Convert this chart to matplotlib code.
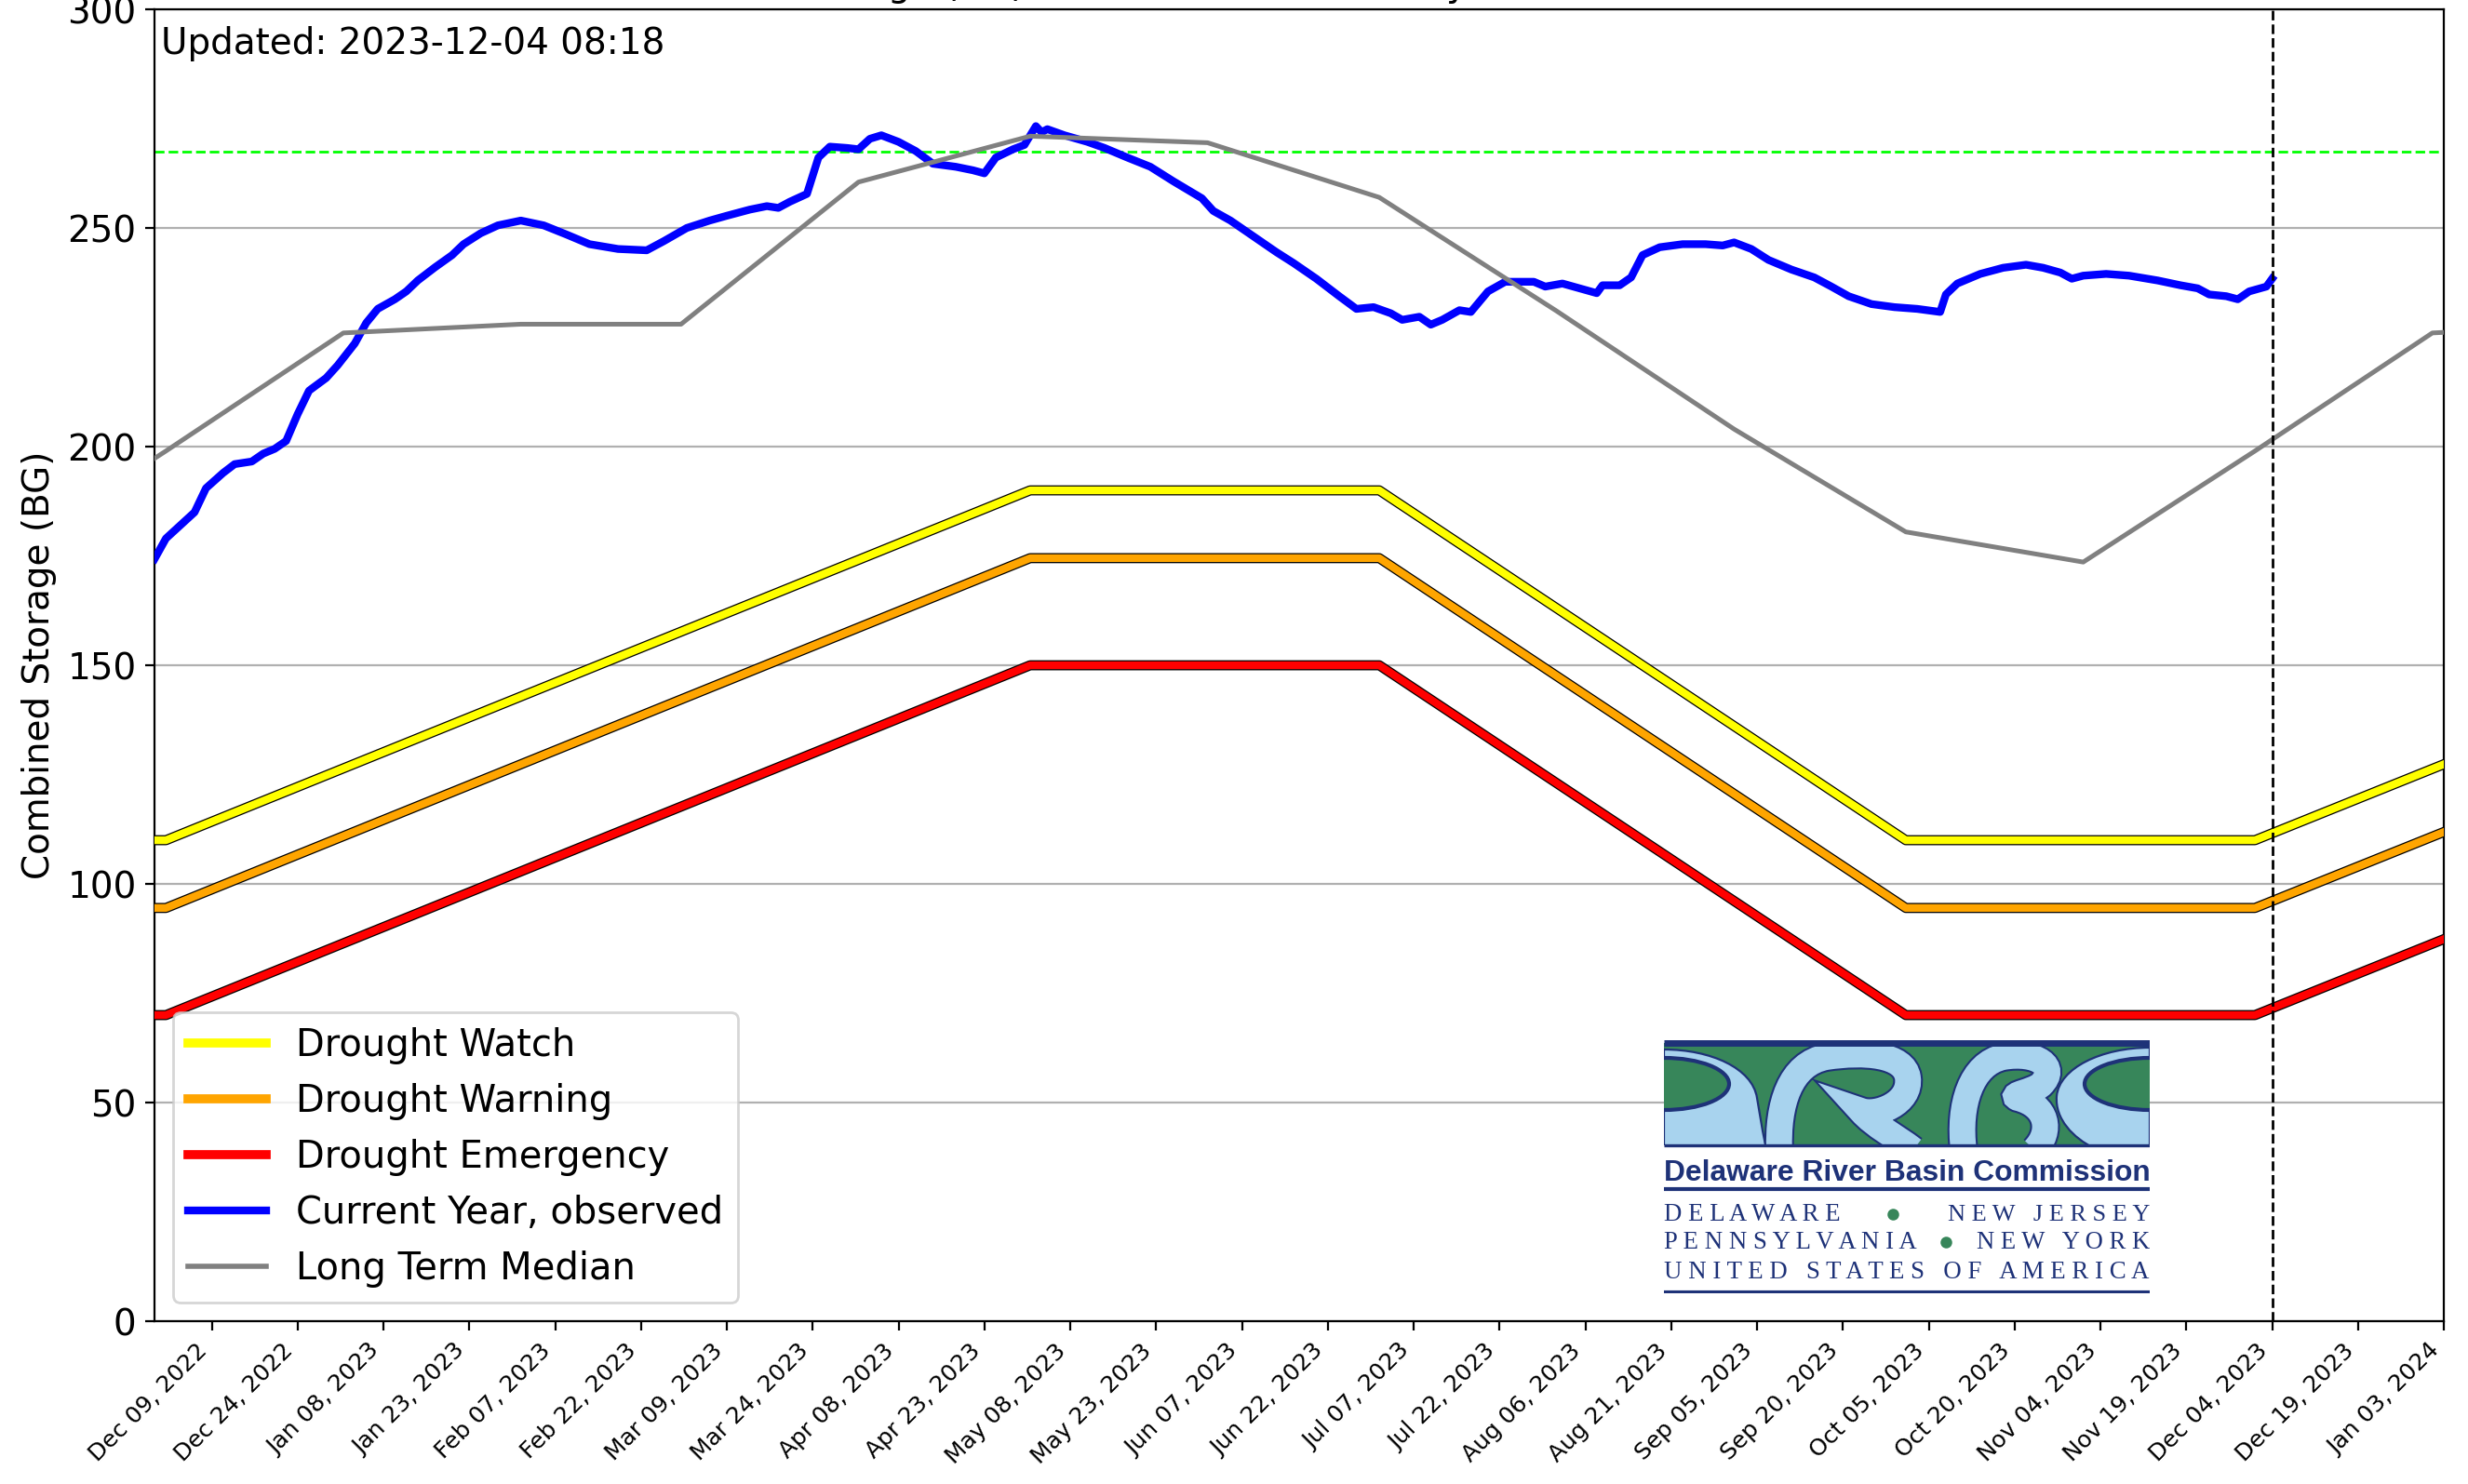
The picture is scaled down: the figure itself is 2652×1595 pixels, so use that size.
import numpy as np
import pandas as pd
import matplotlib
matplotlib.use('Agg')
from matplotlib import pyplot as plt
from matplotlib import dates as mdates
from matplotlib import patheffects as pe
from matplotlib.lines import Line2D
from matplotlib.patches import Rectangle, PathPatch, Ellipse
from matplotlib.path import Path

plt.rcParams['font.size'] = 14

updatedStamp = '2023-12-04 08:18'
today = '2023-12-04'
xStart, xEnd = '2022-11-29', '2024-01-03'
titleText = 'Combined Storage (BG) Last 12 Months vs Daily Median'

# drought operating curves (BG)
curveDates = ['2022-11-01', '2022-12-01', '2023-05-01', '2023-07-01',
              '2023-10-01', '2023-12-01', '2024-05-01']
watchLevels = [110, 110, 190, 190, 110, 110, 190]
warningLevels = [94.5, 94.5, 174.5, 174.5, 94.5, 94.5, 174.5]
emergencyLevels = [70, 70, 150, 150, 70, 70, 150]

# long term median, first of month
medianDates = ['2022-11-01', '2022-12-01', '2023-01-01', '2023-02-01', '2023-03-01',
               '2023-04-01', '2023-05-01', '2023-06-01', '2023-07-01', '2023-08-01',
               '2023-09-01', '2023-10-01', '2023-11-01', '2023-12-01', '2024-01-01',
               '2024-02-01']
medianStorage = [173.6, 199.0, 226.0, 228.0, 228.0, 260.5, 271.0, 269.5, 257.0, 231.0,
                 204.0, 180.5, 173.6, 199.0, 226.0, 228.0]

fullMark = 267.5

# observed combined storage, current year
obsDates = ['2022-11-29', '2022-12-01', '2022-12-04', '2022-12-06', '2022-12-08', '2022-12-11',
            '2022-12-13', '2022-12-16', '2022-12-18', '2022-12-20', '2022-12-22', '2022-12-24',
            '2022-12-26', '2022-12-29', '2022-12-31', '2023-01-03', '2023-01-05', '2023-01-07',
            '2023-01-10', '2023-01-12', '2023-01-14', '2023-01-17', '2023-01-20', '2023-01-22',
            '2023-01-25', '2023-01-28', '2023-02-01', '2023-02-05', '2023-02-09', '2023-02-13',
            '2023-02-18', '2023-02-23', '2023-02-26', '2023-03-02', '2023-03-06', '2023-03-09',
            '2023-03-13', '2023-03-16', '2023-03-18', '2023-03-20', '2023-03-23', '2023-03-25',
            '2023-03-27', '2023-03-30', '2023-04-01', '2023-04-03', '2023-04-05', '2023-04-08',
            '2023-04-11', '2023-04-14', '2023-04-18', '2023-04-21', '2023-04-23', '2023-04-25',
            '2023-04-28', '2023-04-30', '2023-05-02', '2023-05-03', '2023-05-04', '2023-05-07',
            '2023-05-11', '2023-05-14', '2023-05-18', '2023-05-22', '2023-05-26', '2023-05-31',
            '2023-06-02', '2023-06-05', '2023-06-09', '2023-06-13', '2023-06-16', '2023-06-20',
            '2023-06-24', '2023-06-27', '2023-06-30', '2023-07-03', '2023-07-05', '2023-07-08',
            '2023-07-10', '2023-07-12', '2023-07-15', '2023-07-17', '2023-07-20', '2023-07-23',
            '2023-07-28', '2023-07-30', '2023-08-02', '2023-08-05', '2023-08-08', '2023-08-09',
            '2023-08-12', '2023-08-14', '2023-08-16', '2023-08-19', '2023-08-23', '2023-08-27',
            '2023-08-30', '2023-09-01', '2023-09-04', '2023-09-07', '2023-09-11', '2023-09-15',
            '2023-09-18', '2023-09-21', '2023-09-25', '2023-09-29', '2023-10-03', '2023-10-07',
            '2023-10-08', '2023-10-10', '2023-10-14', '2023-10-18', '2023-10-22', '2023-10-25',
            '2023-10-28', '2023-10-30', '2023-11-01', '2023-11-05', '2023-11-09', '2023-11-14',
            '2023-11-18', '2023-11-21', '2023-11-23', '2023-11-26', '2023-11-28', '2023-11-30',
            '2023-12-03', '2023-12-04']
obsStorage = [174.3, 179.0, 182.6, 185.0, 190.5, 194.0, 196.0, 196.6, 198.4, 199.5, 201.3, 207.4,
              212.8, 215.7, 218.6, 223.6, 228.3, 231.5, 233.7, 235.5, 238.0, 241.0, 243.8, 246.3,
              248.8, 250.6, 251.7, 250.6, 248.5, 246.3, 245.2, 244.9, 247.0, 250.0, 251.7, 252.8,
              254.2, 255.0, 254.6, 256.0, 257.8, 266.1, 268.6, 268.3, 268.0, 270.4, 271.2, 269.7,
              267.6, 264.7, 264.0, 263.2, 262.5, 266.1, 268.0, 269.0, 273.3, 271.9, 272.6, 271.2,
              269.7, 268.3, 266.1, 264.0, 260.7, 256.8, 253.9, 251.7, 248.1, 244.5, 242.0, 238.4,
              234.4, 231.5, 231.9, 230.5, 229.0, 229.7, 227.9, 229.0, 231.2, 230.8, 235.5, 237.7,
              237.7, 236.6, 237.3, 236.2, 235.1, 236.9, 236.9, 238.7, 243.8, 245.6, 246.3, 246.3,
              246.0, 246.7, 245.2, 242.7, 240.5, 238.7, 236.6, 234.4, 232.6, 231.9, 231.5, 230.8,
              234.8, 237.3, 239.5, 240.9, 241.6, 240.9, 239.8, 238.4, 239.1, 239.5, 239.1, 238.0,
              236.9, 236.2, 234.8, 234.4, 233.7, 235.5, 236.6, 238.4]

curveDates = pd.to_datetime(curveDates)
medianDates = pd.to_datetime(medianDates)
obsDates = pd.to_datetime(obsDates)

fig = plt.figure(figsize=(13.26, 7.975), dpi=200)
ax = fig.add_axes([0.0626, 0.1097, 0.9276, 0.884])

outline = [pe.Stroke(linewidth=3.9, foreground='black'), pe.Normal()]
for levels, colour in [(watchLevels, 'yellow'), (warningLevels, 'orange'), (emergencyLevels, 'red')]:
    ax.plot(curveDates, levels, color=colour, lw=3, path_effects=outline, zorder=3)

ax.axhline(fullMark, color='lime', ls='--', lw=1, zorder=2)
ax.plot(obsDates, obsStorage, color='blue', lw=3, zorder=4)
ax.plot(medianDates, medianStorage, color='gray', lw=1.8, zorder=5)
ax.axvline(pd.Timestamp(today), color='black', ls='--', lw=1, zorder=6)

ax.set_xlim(pd.Timestamp(xStart), pd.Timestamp(xEnd))
ax.set_ylim(0, 300)
ax.set_xticks(pd.date_range('2022-12-09', xEnd, freq='15D'))
ax.xaxis.set_major_formatter(mdates.DateFormatter('%b %d, %Y'))
plt.setp(ax.get_xticklabels(), rotation=45, ha='right', fontsize=9)
ax.yaxis.grid(True, color='#b0b0b0')
ax.set_axisbelow(True)
ax.set_ylabel('Combined Storage (BG)')

ax.text(0.003, 0.987, 'Updated: ' + updatedStamp, transform=ax.transAxes,
        ha='left', va='top', fontsize=14)
# title sits just above the canvas edge, only its descenders show
fig.text(641 / 2652, 1.0025, titleText, ha='left', va='baseline', fontsize=14)

handles = [Line2D([], [], color='yellow', lw=3.5), Line2D([], [], color='orange', lw=3.5),
           Line2D([], [], color='red', lw=3.5), Line2D([], [], color='blue', lw=3),
           Line2D([], [], color='gray', lw=2)]
labels = ['Drought Watch', 'Drought Warning', 'Drought Emergency',
          'Current Year, observed', 'Long Term Median']
ax.legend(handles, labels, loc='lower left', handlelength=2.1, fontsize=14.4)

# DRBC logo, drawn in pixel units (y downwards)
green, water, navy = '#37865a', '#a8d3ee', '#1e3278'
logo = fig.add_axes([1788 / 2652, 1 - 1390 / 1595, 522 / 2652, 272 / 1595])
logo.set_xlim(0, 522)
logo.set_ylim(272, 0)
logo.axis('off')

band = Rectangle((0, 3), 522, 110, facecolor=green, edgecolor='none', zorder=1)
logo.add_patch(band)

M, C, L, Z = Path.MOVETO, Path.CURVE4, Path.LINETO, Path.CLOSEPOLY
# outer "D" and "C" water areas
sides = [
    ([(0, 10), (50, 10), (95, 30), (100, 62), (104, 85), (106, 100), (110, 116),
      (0, 116), (0, 10)], [M, C, C, C, C, C, C, L, Z]),
    ([(522, 8), (470, 8), (425, 30), (422, 60), (420, 85), (440, 105), (462, 116),
      (522, 116), (522, 8)], [M, C, C, C, C, C, C, L, Z]),
]
for verts, codes in sides:
    p = PathPatch(Path(verts, codes), facecolor=water, edgecolor=navy, lw=0.8, zorder=2)
    logo.add_patch(p)
    p.set_clip_path(band)
for cx in (0, 522):
    e = Ellipse((cx, 47), 140, 56, facecolor=green, edgecolor=navy, lw=1.5, zorder=3)
    logo.add_patch(e)
    e.set_clip_path(band)

# "R" and "B" river strokes
strokes = [
    [(124, 118), (122, 70), (135, 25), (175, 18), (215, 12), (258, 15), (262, 40),
     (266, 68), (228, 82), (212, 76), (226, 92), (250, 104), (268, 118)],
    [(322, 118), (316, 70), (330, 25), (365, 18), (400, 12), (425, 28), (405, 48),
     (395, 56), (372, 58), (380, 62), (412, 70), (418, 98), (398, 118)],
]
for verts in strokes:
    codes = [M] + [C] * (len(verts) - 1)
    river = PathPatch(Path(verts, codes), facecolor='none', edgecolor=water, lw=10,
                      capstyle='butt', zorder=4,
                      path_effects=[pe.Stroke(linewidth=11.5, foreground=navy), pe.Normal()])
    logo.add_patch(river)
    river.set_clip_path(band)

for yy, lw in [(2.5, 2.5), (113, 1.2), (160, 1.5), (271, 1.5)]:
    logo.plot([0, 522], [yy, yy], color=navy, lw=lw, solid_capstyle='butt', zorder=5)

renderer = fig.canvas.get_renderer()


def fit_text(x, y, s, width, ha, **kw):
    t = logo.text(x, y, s, ha=ha, va='baseline', fontsize=10, color=navy, **kw)
    w = t.get_window_extent(renderer).width
    t.set_fontsize(10 * width / w)
    return t


fit_text(261, 151, 'Delaware River Basin Commission', 522, 'center',
         family='Liberation Sans', weight='bold')
fit_text(0, 194, 'D E L A W A R E', 190, 'left', family='Liberation Serif')
fit_text(522, 194, 'N E W   J E R S E Y', 218, 'right', family='Liberation Serif')
fit_text(0, 224, 'P E N N S Y L V A N I A', 271, 'left', family='Liberation Serif')
fit_text(522, 224, 'N E W   Y O R K', 187, 'right', family='Liberation Serif')
fit_text(261, 256, 'U N I T E D   S T A T E S   O F   A M E R I C A', 522, 'center',
         family='Liberation Serif')
logo.plot([246, 303], [187, 217], 'o', color=green, ms=3.5, zorder=5)

fig.savefig('out.png', dpi=200)
